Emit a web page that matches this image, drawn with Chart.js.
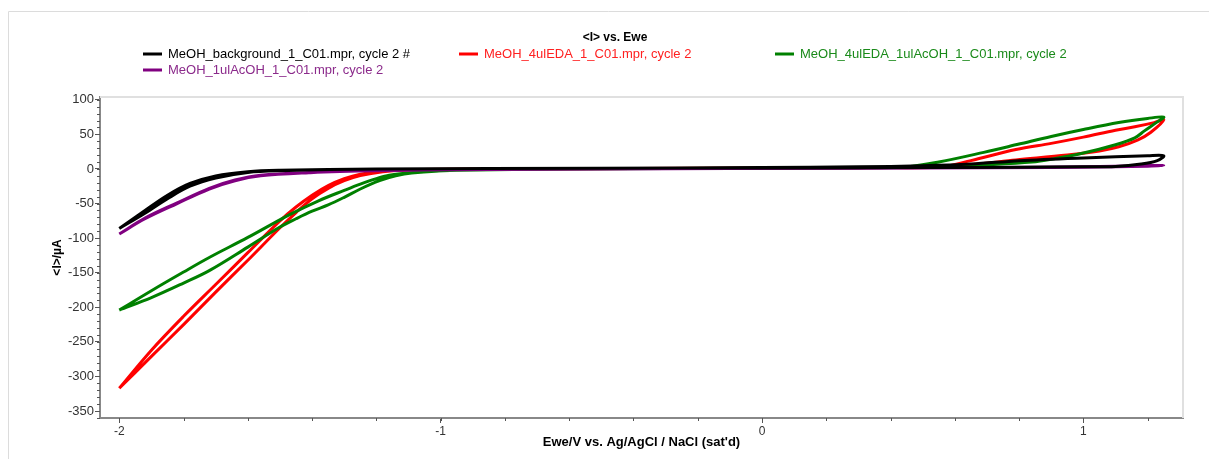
<!DOCTYPE html>
<html>
<head>
<meta charset="utf-8">
<script src="https://cdn.jsdelivr.net/npm/chart.js@4.4.1/dist/chart.umd.min.js"></script>
<style>
  body { margin: 0; background: #fff; }
  #wrap { position: relative; width: 1209px; height: 459px; }
</style>
</head>
<body>
<div id="wrap"><canvas id="cv" width="1209" height="459"></canvas></div>
<script>
// potentials (V) and currents (uA), one loop per file
var bgE = [-2, -1.92, -1.85, -1.78, -1.7, -1.6, -1.5, -1.2, -0.5, 0, 0.5, 0.8, 1.0, 1.1, 1.18, 1.23, 1.25,
           1.2, 1.0, 0.8, 0.65, 0.5, 0.3, 0, -0.5, -1.2, -1.5, -1.6, -1.7, -1.78, -1.85, -1.92, -2];
var bgI = [-86, -60, -38, -21, -10, -4, -2, 0, 1, 1.5, 2, 2.5, 3, 3.5, 7, 12, 19,
           19, 16, 12, 7, 4.5, 3, 2, 1, 0, -2.5, -5, -13, -25, -43, -64, -86];

var edaE = [-2, -1.9, -1.8, -1.7, -1.6, -1.5, -1.45, -1.4, -1.35, -1.3, -1.25, -1.18, -1.1, -0.8, 0, 0.4, 0.5, 0.64, 0.79, 0.95, 1.05, 1.11, 1.17, 1.21, 1.25,
            1.22, 1.16, 1.1, 1.0, 0.9, 0.79, 0.65, 0.56, 0.4, 0, -0.8, -1.1, -1.18, -1.25, -1.3, -1.35, -1.4, -1.45, -1.5, -1.6, -1.7, -1.8, -1.9, -2];
var edaI = [-317, -271, -225, -178, -132, -85, -63, -43, -28, -17, -9.5, -4, -1.5, 0, 1, 2, 3, 6, 13, 20, 26, 32, 42, 53, 71,
            67, 61, 56, 46, 37, 28, 12, 3, 2, 1.5, 0, -1, -3, -7.5, -14, -24, -38, -55, -75, -121, -167, -213, -262, -317];

var mixE = [-2, -1.9, -1.8, -1.72, -1.6, -1.47, -1.38, -1.3, -1.25, -1.2, -1.16, -1.07, -0.95, -0.6, 0, 0.3, 0.45, 0.55, 0.69, 0.8, 0.9, 1.0, 1.11, 1.2, 1.25,
            1.23, 1.19, 1.16, 1.1, 1.0, 0.9, 0.84, 0.7, 0.55, 0.3, 0, -0.6, -0.95, -1.09, -1.14, -1.19, -1.25, -1.3, -1.35, -1.4, -1.45, -1.5, -1.6, -1.72, -1.8, -1.9, -2];
var mixI = [-204, -176, -149, -128, -99, -66, -46, -31, -22, -14, -9, -4.5, -2, 0, 1, 2, 3, 10, 24, 36, 47, 57, 67, 73, 75,
            68, 55, 45, 35, 23, 14, 10, 6, 3, 1.5, 1, 0, -2, -6, -10, -17, -29, -41, -52, -61, -72, -84, -113, -147, -165, -186, -204];

var acE = [-2, -1.92, -1.82, -1.72, -1.64, -1.56, -1.41, -1.2, -0.8, 0, 0.5, 0.9, 1.1, 1.2, 1.25,
           1.2, 1.0, 0.7, 0.3, -0.5, -1.2, -1.41, -1.56, -1.64, -1.72, -1.82, -1.92, -2];
var acI = [-94, -71, -49, -28, -16, -9, -5, -2.5, -0.5, 1, 1.5, 2, 3, 4, 5,
           5, 3, 2, 1, 0, -2, -5.5, -10, -17, -29, -50, -72, -94];

var seriesNames = ['MeOH_background_1_C01.mpr, cycle 2 #', 'MeOH_4ulEDA_1_C01.mpr, cycle 2',
                   'MeOH_4ulEDA_1ulAcOH_1_C01.mpr, cycle 2', 'MeOH_1ulAcOH_1_C01.mpr, cycle 2'];
var seriesColors = ['#000000', '#ff0000', '#008000', '#800080'];
var textColors = ['#000000', '#ff2020', '#1a8a1a', '#8b2a8b'];
var xTicks = [-2, -1, 0, 1];
var yTicks = [-350, -300, -250, -200, -150, -100, -50, 0, 50, 100];

function pts(e, i) {
  return e.map(function (v, k) { return { x: v, y: i[k] }; });
}

var allPts = [pts(bgE, bgI), pts(edaE, edaI), pts(mixE, mixI), pts(acE, acI)];
var drawOrder = [0, 3, 2, 1];

var datasets = allPts.map(function (p, k) {
  return {
    label: seriesNames[k],
    data: p,
    showLine: true,
    borderColor: seriesColors[k],
    backgroundColor: seriesColors[k],
    borderWidth: 3,
    pointRadius: 0,
    tension: 0.35,
    order: drawOrder[k]
  };
});

var extras = {
  id: 'extras',
  beforeDatasetsDraw: function (chart) {
    var c = chart.ctx, a = chart.chartArea;
    c.save();
    c.strokeStyle = '#dcdcdc';
    c.lineWidth = 1;
    c.beginPath();
    c.moveTo(8.5, 459); c.lineTo(8.5, 11.5); c.lineTo(1209, 11.5);
    c.stroke();
    c.strokeStyle = '#e0e0e0';
    c.lineWidth = 2;
    c.beginPath();
    c.moveTo(a.left, a.top); c.lineTo(a.right, a.top); c.lineTo(a.right, a.bottom);
    c.stroke();
    c.restore();
  },
  afterDraw: function (chart) {
    var c = chart.ctx, a = chart.chartArea;
    var xs = chart.scales.x, ys = chart.scales.y;
    c.save();
    // minor ticks
    c.strokeStyle = '#555';
    c.lineWidth = 1;
    c.beginPath();
    for (var v = -2; v <= 1.3; v += 0.2) {
      var px = Math.round(xs.getPixelForValue(v)) + 0.5;
      c.moveTo(px, a.bottom); c.lineTo(px, a.bottom + 3);
    }
    for (var w = -360; w <= 100; w += 10) {
      var py = Math.round(ys.getPixelForValue(w)) + 0.5;
      c.moveTo(a.left - 3, py); c.lineTo(a.left, py);
    }
    c.stroke();
    // title
    c.fillStyle = '#000';
    c.font = 'bold 12px "Liberation Sans", Arial, sans-serif';
    c.textAlign = 'center';
    c.textBaseline = 'middle';
    c.fillText('<I> vs. Ewe', 615, 38);
    // legend
    var lx = [143, 459, 775, 143];
    var ly = [54, 54, 54, 70];
    c.font = '13px "Liberation Sans", Arial, sans-serif';
    c.textAlign = 'left';
    for (var k = 0; k < 4; k++) {
      c.strokeStyle = seriesColors[k];
      c.lineWidth = 3;
      c.beginPath();
      c.moveTo(lx[k], ly[k]); c.lineTo(lx[k] + 19, ly[k]);
      c.stroke();
      c.fillStyle = textColors[k];
      c.fillText(seriesNames[k], lx[k] + 25, ly[k]);
    }
    c.restore();
  }
};

new Chart(document.getElementById('cv'), {
  type: 'scatter',
  data: { datasets: datasets },
  plugins: [extras],
  options: {
    responsive: false,
    animation: false,
    layout: { padding: { top: 97, right: 26, left: 8, bottom: 0 } },
    plugins: { legend: { display: false }, tooltip: { enabled: false } },
    scales: {
      x: {
        type: 'linear',
        min: -2.06,
        max: 1.31,
        afterBuildTicks: function (s) { s.ticks = xTicks.map(function (v) { return { value: v }; }); },
        afterFit: function (s) { s.height = 41; },
        grid: { drawOnChartArea: false, tickLength: 5, color: '#555' },
        border: { color: '#888', width: 2 },
        ticks: { color: '#333', font: { size: 12, family: '"Liberation Sans", Arial, sans-serif' }, padding: 1, maxRotation: 0 },
        title: {
          display: true,
          text: "Ewe/V vs. Ag/AgCl / NaCl (sat'd)",
          color: '#000',
          font: { size: 13, weight: 'bold', family: '"Liberation Sans", Arial, sans-serif' },
          padding: { top: 0, bottom: 9 }
        }
      },
      y: {
        type: 'linear',
        min: -360,
        max: 104,
        afterBuildTicks: function (s) { s.ticks = yTicks.map(function (v) { return { value: v }; }); },
        afterFit: function (s) { s.width = 92; },
        grid: { drawOnChartArea: false, tickLength: 5, color: '#555' },
        border: { color: '#888', width: 2 },
        ticks: { color: '#333', font: { size: 13, family: '"Liberation Sans", Arial, sans-serif' }, padding: 1 },
        title: {
          display: true,
          text: '<I>/µA',
          color: '#000',
          font: { size: 12, weight: 'bold', family: '"Liberation Sans", Arial, sans-serif' },
          padding: { top: 42, bottom: 0 }
        }
      }
    }
  }
});
</script>
</body>
</html>
